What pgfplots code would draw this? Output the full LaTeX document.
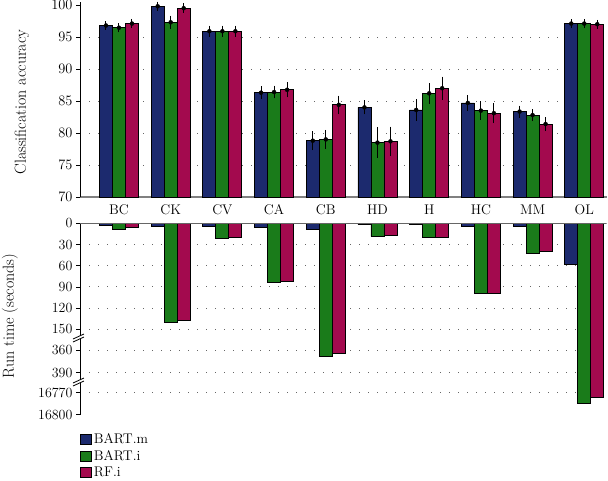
\documentclass[border=0pt]{standalone}
\usepackage{pgfplots}
\usepackage{pgfplotstable}
\pgfplotsset{compat=1.18}

\definecolor{cm}{RGB}{28,42,110}
\definecolor{ci}{RGB}{26,123,26}
\definecolor{cr}{RGB}{163,10,78}

% accuracy (mean, error) and run time for BART.m, BART.i, RF.i
\pgfplotstableread{
x acc_m err_m acc_i err_i acc_r err_r t_m t_i t_r
0 96.8  0.10 96.45 0.12 97.1  0.12 3    8.5   6
1 99.8  0.12 97.3  0.45 99.5  0.15 5    140   137
2 95.9  0.30 95.9  0.30 95.9  0.30 5    22    20
3 86.3  0.45 86.4  0.40 86.75 0.60 6    84    82
4 78.8  0.90 79.0  0.90 84.4  0.85 8.5  368   364
5 84.0  0.50 78.5  1.80 78.7  1.70 2    18.5  17
6 83.6  1.10 86.2  1.00 87.0  1.20 1.5  19.5  20
7 84.7  0.60 83.5  0.85 83.1  0.95 5    98.6  98.5
8 83.35 0.35 82.8  0.35 81.4  0.50 5    43    40
9 97.1  0.10 97.1  0.10 97.0  0.10 58   16784 16777
}\data

\pgfplotsset{
  panel/.style={scale only axis, width=526.5pt, xmin=-0.754, xmax=9.43,
    anchor=north west, axis y line*=left, axis line style={-, line width=0.8pt},
    tick align=outside, major tick length=4pt, tick style={black, line width=0.8pt},
    ymajorgrids, grid style={dash pattern=on 0.9pt off 8.1pt, line width=0.9pt, black!60},
    extra y tick style={grid=none},
    ticklabel style={font=\fontsize{14}{16}\selectfont},
    scaled y ticks=false, /pgf/number format/1000 sep={}},
  bm/.style={ybar, bar width=13pt, bar shift=-13pt, fill=cm, draw=black, line width=0.8pt},
  bi/.style={ybar, bar width=13pt, bar shift=0pt, fill=ci, draw=black, line width=0.8pt},
  br/.style={ybar, bar width=13pt, bar shift=13pt, fill=cr, draw=black, line width=0.8pt},
  eb/.style={only marks, mark=none, forget plot,
    error bars/.cd, y dir=both, y explicit,
    error bar style={draw=black, solid, line width=1pt},
    error mark options={draw=black, solid, mark size=3.8pt, line width=1pt}},
}

\begin{document}
\begin{tikzpicture}
\useasboundingbox (0pt,0pt) rectangle (608pt,-480pt);

% classification accuracy
\begin{axis}[panel, at={(80pt,-1.8pt)}, height=195.2pt,
    ymin=70, ymax=100.5, ytick={75,80,...,95}, extra y ticks={70,100},
    axis x line*=bottom, x axis line style={draw=black!50, line width=1.5pt},
    xtick={0,...,9}, xticklabels={BC,CK,CV,CA,CB,HD,H,HC,MM,OL},
    x tick style={draw=none}]
\addplot[bm] table[x=x, y=acc_m] {\data};
\addplot[bi] table[x=x, y=acc_i] {\data};
\addplot[br] table[x=x, y=acc_r] {\data};
\addplot[eb] table[x expr=\thisrow{x}-0.2515, y=acc_m, y error=err_m] {\data};
\addplot[eb] table[x=x, y=acc_i, y error=err_i] {\data};
\addplot[eb] table[x expr=\thisrow{x}+0.2515, y=acc_r, y error=err_r] {\data};
\end{axis}

% run time, broken axis: 0-162 | 344-402 | 16755-16800
\begin{axis}[panel, at={(80pt,-223.3pt)}, height=191.4pt, y dir=reverse,
    ymin=0, ymax=191.4,
    y filter/.expression={y<=162.2 ? y*0.707 : (y<=402.3 ? 114.7+(y-344.2)*0.757 : 158.7+(y-16755.4)*0.733)},
    ytick={21.21,42.42,63.63,84.84,106.05,126.8,149.5,169.4},
    yticklabels={30,60,90,120,150,360,390,16770},
    extra y ticks={0,191.4}, extra y tick labels={0,16800},
    axis x line=none, xtick=\empty,
    legend image code/.code={\draw[#1, draw=black, line width=0.8pt] (0pt,-5pt) rectangle (11pt,5pt);},
    legend cell align=left,
    legend style={at={(0,0)}, anchor=north west, yshift=-17pt, draw=none, fill=none,
      inner sep=0pt, row sep=1pt, font=\fontsize{14}{16}\selectfont}]
\addplot[bm, forget plot] table[x=x, y=t_m] {\data};
\addplot[bi, forget plot] table[x=x, y=t_i] {\data};
\addplot[br, forget plot] table[x=x, y=t_r] {\data};
\draw[black!60, line width=1pt] (axis cs:-0.754,0) -- (axis cs:9.43,0);
\addlegendimage{fill=cm}\addlegendentry{BART.m}
\addlegendimage{fill=ci}\addlegendentry{BART.i}
\addlegendimage{fill=cr}\addlegendentry{RF.i}
\end{axis}

% axis breaks
\foreach \yb in {338,382}{
  \fill[white] (73pt,-\yb pt-1pt) -- (84pt,-\yb pt+4pt) -- (84pt,-\yb pt+1pt) -- (73pt,-\yb pt-4pt) -- cycle;
  \draw[line width=0.8pt] (73pt,-\yb pt-1pt) -- (84pt,-\yb pt+4pt);
  \draw[line width=0.8pt] (73pt,-\yb pt-4pt) -- (84pt,-\yb pt+1pt);
}

\node[rotate=90, font=\fontsize{16}{18}\selectfont] at (22pt,-102pt) {Classification accuracy};
\node[rotate=90, font=\fontsize{16}{18}\selectfont] at (10pt,-316pt) {Run time (seconds)};
\end{tikzpicture}
\end{document}
